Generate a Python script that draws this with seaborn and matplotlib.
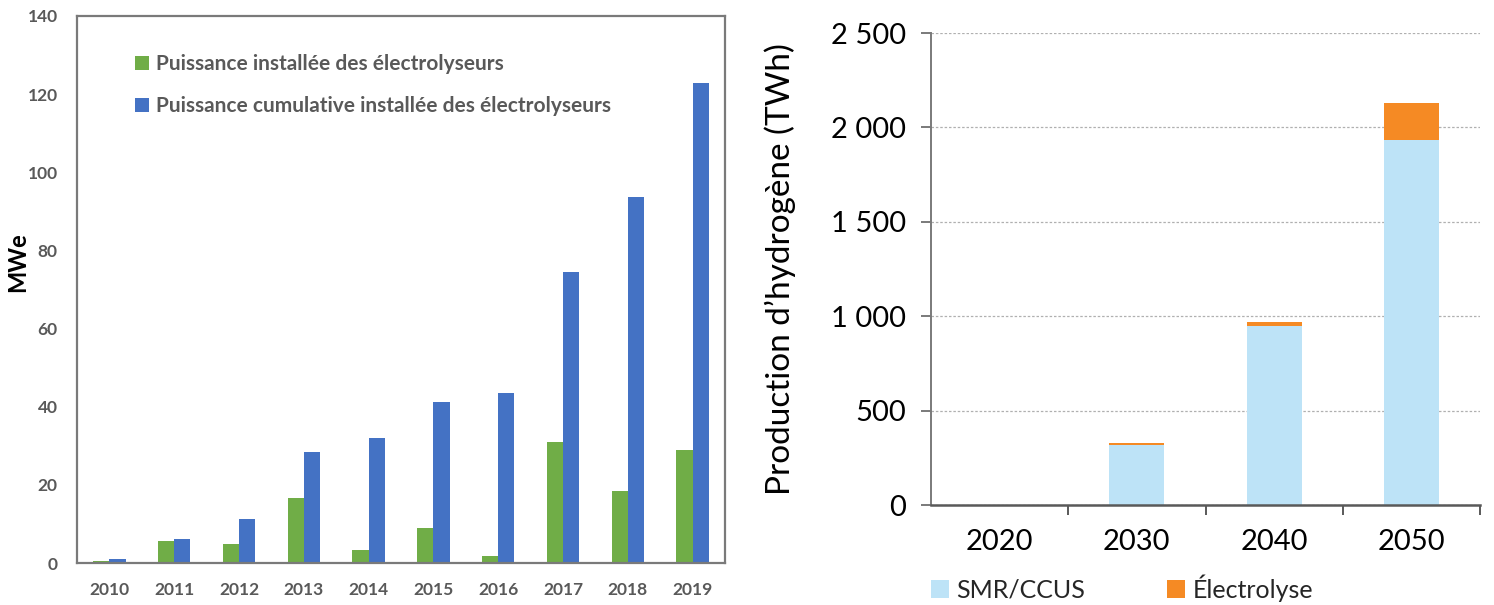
import matplotlib
matplotlib.use("Agg")
import matplotlib.pyplot as plt
from matplotlib.ticker import FixedLocator
import pandas as pd
import seaborn as sns

# --- data ---
years = ["2010", "2011", "2012", "2013", "2014", "2015", "2016", "2017", "2018", "2019"]
installed = [0.5, 5.7, 4.9, 16.7, 3.3, 9.0, 1.8, 31.0, 18.5, 29.0]
cumulative = [1.0, 6.2, 11.3, 28.5, 32.0, 41.3, 43.6, 74.6, 93.8, 122.8]
series_left = ["Puissance installée des électrolyseurs",
               "Puissance cumulative installée des électrolyseurs"]
left_yticks = [0, 20, 40, 60, 80, 100, 120, 140]

decades = ["2020", "2030", "2040", "2050"]
smr_ccus = [0, 318, 950, 1935]
electrolyse = [0, 10, 21, 194]
series_right = ["SMR/CCUS", "Électrolyse"]
right_yticks = [0, 500, 1000, 1500, 2000, 2500]
right_yticklabels = ["0", "500", "1 000", "1 500", "2 000", "2 500"]

GREEN, BLUE = "#70AD47", "#4472C4"
SKY, ORANGE = "#BDE3F7", "#F58A24"
GREY_TXT = "#595959"

sns.set_theme(style="white")
plt.rcParams["font.family"] = ["Lato", "DejaVu Sans"]

fig = plt.figure(figsize=(14.94, 6.05), dpi=100)

# ---------------- left chart ----------------
axl = fig.add_axes([77 / 1494, 1 - 563 / 605, 648 / 1494, 547 / 605])
dl = pd.DataFrame({
    "year": years * 2,
    "MWe": installed + cumulative,
    "serie": [series_left[0]] * len(years) + [series_left[1]] * len(years),
})
sns.barplot(data=dl, x="year", y="MWe", hue="serie", palette=[GREEN, BLUE],
            width=0.5, saturation=1, linewidth=0, ax=axl)
axl.set_xlim(-0.5, 9.5)
axl.set_ylim(0, 140)
axl.yaxis.set_major_locator(FixedLocator(left_yticks))
axl.set_xlabel("")
axl.set_ylabel("")
axl.tick_params(axis="both", length=0, labelcolor=GREY_TXT)
axl.tick_params(axis="y", pad=14, labelsize=12.5)
axl.tick_params(axis="x", pad=14, labelsize=12.5)
for lab in axl.get_xticklabels() + axl.get_yticklabels():
    lab.set_fontweight("bold")
for sp in axl.spines.values():
    sp.set_visible(True)
    sp.set_color("#7a7a7a")
    sp.set_linewidth(1.6)
h, l = axl.get_legend_handles_labels()
leg = axl.legend(h, l, loc="upper left", bbox_to_anchor=(0.09, 0.93),
                 frameon=False, fontsize=15, handlelength=0.65,
                 handleheight=0.65, handletextpad=0.35, labelspacing=1.05,
                 borderaxespad=0, borderpad=0)
for t in leg.get_texts():
    t.set_color(GREY_TXT)
    t.set_fontweight("bold")
fig.text(18 / 1494, 1 - 262 / 605, "MWe", rotation=90, ha="center",
         va="center", fontsize=17, fontweight="bold", color="black")

# ---------------- right chart ----------------
axr = fig.add_axes([931 / 1494, 1 - 505 / 605, 549 / 1494, 472 / 605])
dr = pd.DataFrame({"annee": decades, "smr": smr_ccus, "elec": electrolyse})
dr["total"] = dr["smr"] + dr["elec"]
# stacked: total in orange, SMR/CCUS drawn over it
sns.barplot(data=dr, x="annee", y="total", color=ORANGE, saturation=1,
            width=0.4, linewidth=0, ax=axr, label=series_right[1])
sns.barplot(data=dr, x="annee", y="smr", color=SKY, saturation=1,
            width=0.4, linewidth=0, ax=axr, label=series_right[0])
axr.set_xlim(-0.5, 3.5)
axr.set_ylim(0, 2500)
axr.yaxis.set_major_locator(FixedLocator(right_yticks))
axr.set_yticklabels(right_yticklabels)
axr.set_xlabel("")
axr.set_ylabel("Production d’hydrogène (TWh)", fontsize=24, color="black")
axr.yaxis.set_label_coords(-0.245, 0.5)
axr.yaxis.grid(True, linestyle=(0, (2, 1.5)), color="#b0b0b0", linewidth=0.9)
axr.set_axisbelow(True)
axr.spines["top"].set_visible(False)
axr.spines["right"].set_visible(False)
axr.spines["left"].set_color("#7a7a7a")
axr.spines["left"].set_linewidth(1.4)
axr.spines["bottom"].set_color("#595959")
axr.spines["bottom"].set_linewidth(1.8)
axr.tick_params(axis="y", direction="out", length=7, width=1.4,
                color="#7a7a7a", left=True, pad=11, labelsize=21,
                labelcolor="black")
axr.tick_params(axis="x", which="major", length=0, pad=17, labelsize=21,
                labelcolor="black")
axr.xaxis.set_minor_locator(FixedLocator([0.5, 1.5, 2.5, 3.5]))
axr.tick_params(axis="x", which="minor", direction="out", length=7,
                width=1.4, color="#595959", bottom=True)
h, l = axr.get_legend_handles_labels()
order = [l.index(s) for s in series_right]
axr.legend([h[i] for i in order], [l[i] for i in order], loc="center left",
           bbox_to_anchor=(0.0, -0.176), ncol=2, frameon=False, fontsize=18,
           handlelength=0.7, handleheight=0.7, handletextpad=0.3,
           columnspacing=3.3, borderaxespad=0, borderpad=0)

fig.savefig("out.png", dpi=100)
